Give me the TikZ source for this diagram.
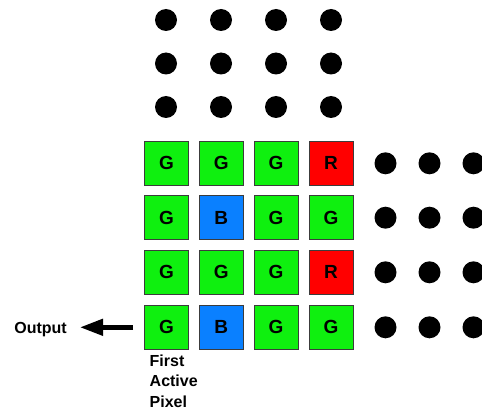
\documentclass[tikz,border=0pt]{standalone}
\usepackage{fontspec}
\setmainfont{Liberation Sans}
\usetikzlibrary{arrows.meta}
\definecolor{pxgreen}{RGB}{15,240,15}
\definecolor{pxred}{RGB}{255,0,0}
\definecolor{pxblue}{RGB}{10,128,255}
\definecolor{pxedge}{RGB}{60,60,60}
\tikzset{
  px/.style={draw=pxedge, line width=0.9pt, minimum size=44pt, inner sep=0pt,
    font=\fontsize{19}{19}\selectfont\bfseries},
  gpx/.style={px, fill=pxgreen},
  rpx/.style={px, fill=pxred},
  bpx/.style={px, fill=pxblue},
  dot/.style={circle, fill=black, minimum size=22pt, inner sep=0pt},
  lbl/.style={font=\fontsize{16}{20.5}\selectfont\bfseries, inner sep=0pt},
  outarrow/.style={line width=4.5pt, -{Triangle[length=23pt,width=16pt]}}
}
\begin{document}
\begin{tikzpicture}[x=1pt,y=-1pt]
\useasboundingbox (0,0) rectangle (482,409);
% top dot rows
\foreach \c/\x in {1/166,2/221,3/276,4/331}{
  \foreach \r/\y in {1/20,2/63.5,3/107}{
    \node[dot] (t\r\c) at (\x,\y) {};
  }
}
% pixel array
\node[gpx] (s11) at (166.5,163) {G};
\node[gpx] (s12) at (221.3,163) {G};
\node[gpx] (s13) at (276,163) {G};
\node[rpx] (s14) at (331,163) {R};
\node[gpx] (s21) at (166.5,217.7) {G};
\node[bpx] (s22) at (221.3,217.7) {B};
\node[gpx] (s23) at (276,217.7) {G};
\node[gpx] (s24) at (331,217.7) {G};
\node[gpx] (s31) at (166.5,272.3) {G};
\node[gpx] (s32) at (221.3,272.3) {G};
\node[gpx] (s33) at (276,272.3) {G};
\node[rpx] (s34) at (331,272.3) {R};
\node[gpx] (s41) at (166.5,327.3) {G};
\node[bpx] (s42) at (221.3,327.3) {B};
\node[gpx] (s43) at (276,327.3) {G};
\node[gpx] (s44) at (331,327.3) {G};
% right dot columns
\foreach \r/\y in {1/163.3,2/217.7,3/272.3,4/327.3}{
  \foreach \c/\x in {1/385.5,2/429.5,3/473.5}{
    \node[dot] (r\r\c) at (\x,\y) {};
  }
}
% output
\node[lbl, anchor=base east] (out) at (67,333.3) {Output};
\draw[outarrow, shorten <=11pt, shorten >=13pt] (s41.west) -- (out.east |- s41.west);
\node[lbl, anchor=north west, align=left] (first) at (149.5,354.3) {First\\Active\\Pixel};
\end{tikzpicture}
\end{document}
